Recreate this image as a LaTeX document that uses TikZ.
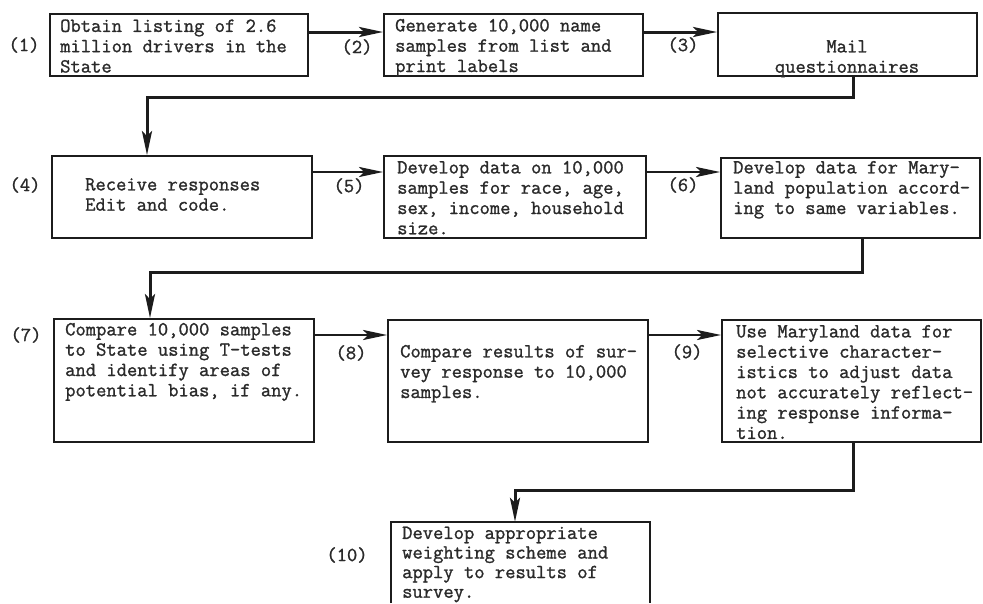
\documentclass[tikz,border=0pt]{standalone}
\usepackage{fontspec}
\newfontfamily\tw[FakeBold=1.2]{Latin Modern Mono}
\usetikzlibrary{arrows.meta,fit}
\definecolor{ink}{HTML}{1C1C1C}
\definecolor{txt}{HTML}{2A2A2A}
\begin{document}
\begin{tikzpicture}[x=1pt,y=-1pt,
  boxline/.style={draw=ink,line width=1.8pt},
  box/.style={boxline,inner sep=0pt},
  frame/.style={inner sep=0pt},
  tx/.style={anchor=north west,inner sep=0pt,align=left,text=txt,
    font=\tw\fontsize{20}{20.3}\selectfont},
  txc/.style={anchor=north,inner sep=0pt,align=center,text=txt,
    font=\tw\fontsize{20}{20.3}\selectfont},
  lab/.style={inner sep=0pt,text=txt,font=\tw\fontsize{20}{20.3}\selectfont},
  conn/.style={draw=ink,line width=3pt,line join=miter},
  arr/.style={conn,-{Stealth[length=24pt,width=10pt,inset=5pt]}},
  arrthin/.style={draw=ink,line width=2.5pt,-{Stealth[length=24pt,width=10pt,inset=5pt]}}
]
\useasboundingbox[fill=white] (0,0) rectangle (983,603);

% boxes
\node[box,fit={(50,14) (308,76)}] (b1) {};
\node[box,fit={(384,14) (643,76)}] (b2) {};
\node[box,fit={(718,13) (977,76)}] (b3) {};
\node[box,fit={(52,156) (312,238)}] (b4) {};
\node[box,fit={(384,156) (646,238)}] (b5) {};
\node[box,fit={(721,158) (980,238)}] (b6) {};
\node[box,fit={(54,319) (314,442)}] (b7) {};
\node[box,fit={(388,320) (648,442)}] (b8) {};
\node[box,fit={(722,320) (981,442)}] (b9) {};
\node[frame,fit={(391,522) (650,603)}] (b10) {};
\draw[boxline] (b10.south west) -- (b10.north west) -- (b10.north east) -- (b10.south east);

% texts
\node[tx] (t1) at (60,17.5) {\strut Obtain listing of 2.6\\million drivers in the\\State};
\node[tx] (t2) at (395,17) {\strut Generate 10,000 name\\samples from list and\\print labels};
\node[txc] (t3) at (847,38) {\strut Mail\\questionnaires};
\node[tx] (t4) at (85,176) {\strut Receive responses\\Edit and code.};
\node[tx] (t5) at (397,159) {\strut Develop data on 10,000\\samples for race, age,\\sex, income, household\\size.};
\node[tx] (t6) at (733,159) {\strut Develop data for Mary-\\land population accord-\\ing to same variables.};
\node[tx] (t7) at (65,321) {\strut Compare 10,000 samples\\to State using T-tests\\and identify areas of\\potential bias, if any.};
\node[tx] (t8) at (400,343) {\strut Compare results of sur-\\vey response to 10,000\\samples.};
\node[tx] (t9) at (736,323) {\strut Use Maryland data for\\selective character-\\istics to adjust data\\not accurately reflect-\\ing response informa-\\tion.};
\node[tx,font=\tw\fontsize{20}{19.6}\selectfont] (t10) at (402,525) {\strut Develop appropriate\\weighting scheme and\\apply to results of\\survey.};

% step numbers
\node[lab] (n1) at (24,45) {(1)};
\node[lab] (n2) at (357,47) {(2)};
\node[lab] (n3) at (683,45) {(3)};
\node[lab] (n4) at (25,185) {(4)};
\node[lab] (n5) at (349,186) {(5)};
\node[lab] (n6) at (683,185) {(6)};
\node[lab] (n7) at (26,335) {(7)};
\node[lab] (n8) at (351,353) {(8)};
\node[lab] (n9) at (687,352) {(9)};
\node[lab] (n10) at (347,555) {(10)};

% connector helper coordinates
\coordinate (r1) at (0,32);
\coordinate (r2) at (0,172);
\coordinate (r3) at (0,335);
\coordinate (k3a) at (853,97);
\coordinate (k3b) at (147,97);
\coordinate (k6a) at (862,272);
\coordinate (k6b) at (150,272);
\coordinate (k9a) at (853,490);
\coordinate (k9b) at (515,490);

% row 1
\draw[arr] (b1.east |- r1) -- (b2.west |- r1);
\draw[arr] (b2.east |- r1) -- (b3.west |- r1);
\draw[arr] (b3.south -| k3a) -- (k3a) -- (k3b) -- (b4.north -| k3b);
% row 2
\draw[arrthin] (b4.east |- r2) -- (b5.west |- r2);
\draw[arrthin] (b5.east |- r2) -- (b6.west |- r2);
\draw[arr] (b6.south -| k6a) -- (k6a) -- (k6b) -- (b7.north -| k6b);
% row 3
\draw[arrthin] (b7.east |- r3) -- (b8.west |- r3);
\draw[arrthin] (b8.east |- r3) -- (b9.west |- r3);
\draw[arr] (b9.south -| k9a) -- (k9a) -- (k9b) -- (b10.north -| k9b);
\end{tikzpicture}
\end{document}
